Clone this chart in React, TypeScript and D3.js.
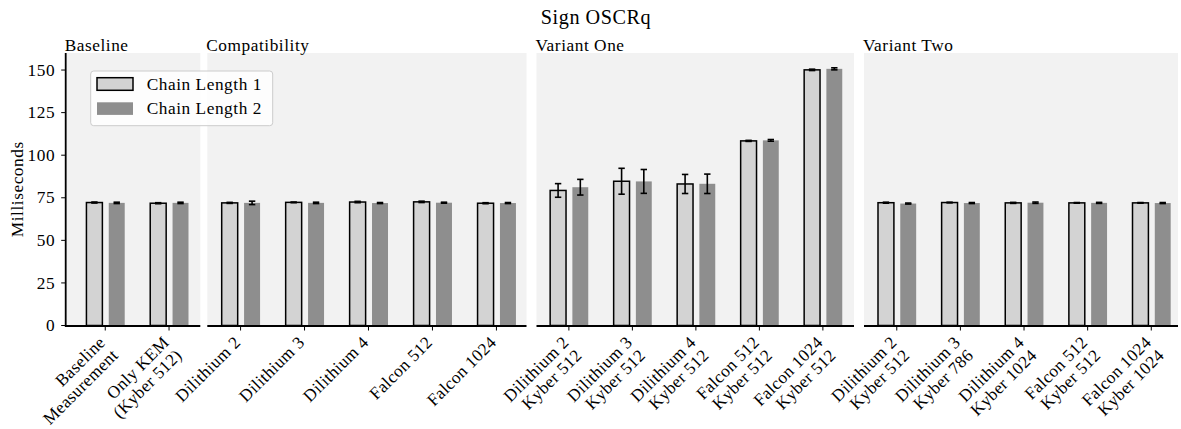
import React from "react";
import * as d3 from "d3";

// ---------- data ----------
const chartTitle = "Sign OSCRq";
const yLabel = "Milliseconds";
const seriesNames = ["Chain Length 1", "Chain Length 2"];
const yTicks = [0, 25, 50, 75, 100, 125, 150];

const panelTitles = ["Baseline", "Compatibility", "Variant One", "Variant Two"];

const baselineCats = ["Baseline\nMeasurement", "Only KEM\n(Kyber 512)"];
const baselineL1 = [72.2, 71.8];
const baselineL1Err = [0.3, 0.3];
const baselineL2 = [72.0, 72.0];
const baselineL2Err = [0.4, 0.4];

const compatCats = ["Dilithium 2", "Dilithium 3", "Dilithium 4", "Falcon 512", "Falcon 1024"];
const compatL1 = [72.0, 72.3, 72.5, 72.6, 71.8];
const compatL1Err = [0.3, 0.2, 0.4, 0.4, 0.3];
const compatL2 = [72.0, 72.0, 71.9, 72.1, 71.9];
const compatL2Err = [1.0, 0.4, 0.3, 0.3, 0.3];

const variantOneCats = [
  "Dilithium 2\nKyber 512",
  "Dilithium 3\nKyber 512",
  "Dilithium 4\nKyber 512",
  "Falcon 512\nKyber 512",
  "Falcon 1024\nKyber 512",
];
const variantOneL1 = [79.3, 84.7, 83.1, 108.4, 150.1];
const variantOneL1Err = [4.0, 7.6, 5.6, 0.3, 0.4];
const variantOneL2 = [81.2, 84.6, 83.2, 108.7, 150.7];
const variantOneL2Err = [4.6, 7.0, 5.7, 0.5, 0.6];

const variantTwoCats = [
  "Dilithium 2\nKyber 512",
  "Dilithium 3\nKyber 786",
  "Dilithium 4\nKyber 1024",
  "Falcon 512\nKyber 512",
  "Falcon 1024\nKyber 1024",
];
const variantTwoL1 = [72.1, 72.2, 72.0, 72.0, 72.0];
const variantTwoL1Err = [0.3, 0.2, 0.3, 0.2, 0.2];
const variantTwoL2 = [71.6, 71.9, 72.1, 72.0, 71.9];
const variantTwoL2Err = [0.3, 0.3, 0.4, 0.3, 0.3];

// ---------- layout ----------
const W = 1181;
const H = 429;
const FONT = "'Liberation Serif', 'Times New Roman', serif";
const FS = 17.3;
const LS = 0.55;
const BG = "#f2f2f2";
const LIGHT = "#d3d3d3";
const DARK = "#8e8e8e";

const yTop = 53;
const yBottom = 325.5;

const panels = [
  { title: panelTitles[0], cats: baselineCats, l1: baselineL1, e1: baselineL1Err, l2: baselineL2, e2: baselineL2Err, x0: 65.7, x1: 200.3, dom: [-0.62, 1.49], leftSpine: true },
  { title: panelTitles[1], cats: compatCats, l1: compatL1, e1: compatL1Err, l2: compatL2, e2: compatL2Err, x0: 207.3, x1: 526.5, dom: [-0.52, 4.47], leftSpine: false },
  { title: panelTitles[2], cats: variantOneCats, l1: variantOneL1, e1: variantOneL1Err, l2: variantOneL2, e2: variantOneL2Err, x0: 536.5, x1: 854, dom: [-0.51, 4.49], leftSpine: false },
  { title: panelTitles[3], cats: variantTwoCats, l1: variantTwoL1, e1: variantTwoL1Err, l2: variantTwoL2, e2: variantTwoL2Err, x0: 864, x1: 1178, dom: [-0.515, 4.42], leftSpine: false },
];

const y = d3.scaleLinear().domain([0, 160]).range([yBottom, yTop]);

const BAR_W = 0.25;
const OFF1 = -0.17;
const OFF2 = 0.18;

function ErrorBar({ cx, v, e }: { cx: number; v: number; e: number }) {
  const yl = y(v - e);
  const yh = y(v + e);
  return (
    <g stroke="#000" strokeWidth={1.6}>
      <line x1={cx} x2={cx} y1={yl} y2={yh} />
      <line x1={cx - 3.2} x2={cx + 3.2} y1={yl} y2={yl} />
      <line x1={cx - 3.2} x2={cx + 3.2} y1={yh} y2={yh} />
    </g>
  );
}

function Panel({ p }: { p: (typeof panels)[number] }) {
  const x = d3.scaleLinear().domain(p.dom).range([p.x0, p.x1]);
  const unit = x(1) - x(0);
  const bw = BAR_W * unit;
  return (
    <g>
      <rect x={p.x0} y={yTop} width={p.x1 - p.x0} height={yBottom - yTop} fill={BG} />
      <text x={p.x0 - 1} y={51} fontFamily={FONT} fontSize={FS} letterSpacing={LS} fill="#000">
        {p.title}
      </text>
      {p.cats.map((c, i) => {
        const c1 = x(i + OFF1);
        const c2 = x(i + OFF2);
        return (
          <g key={"b" + i}>
            <rect x={c1 - bw / 2} y={y(p.l1[i])} width={bw} height={y(0) - y(p.l1[i])} fill={LIGHT} stroke="#000" strokeWidth={1.5} />
            <rect x={c2 - bw / 2} y={y(p.l2[i])} width={bw} height={y(0) - y(p.l2[i])} fill={DARK} />
            <ErrorBar cx={c1} v={p.l1[i]} e={p.e1[i]} />
            <ErrorBar cx={c2} v={p.l2[i]} e={p.e2[i]} />
          </g>
        );
      })}
      {/* bottom spine */}
      <line x1={p.x0} x2={p.x1} y1={yBottom + 0.5} y2={yBottom + 0.5} stroke="#000" strokeWidth={1.8} />
      {p.leftSpine && (
        <line x1={p.x0} x2={p.x0} y1={yTop} y2={yBottom + 1.4} stroke="#000" strokeWidth={1.8} />
      )}
      {p.cats.map((c, i) => {
        const tx = x(i);
        const lines = c.split("\n");
        return (
          <g key={"t" + i}>
            <line x1={tx} x2={tx} y1={yBottom + 1} y2={yBottom + 5} stroke="#000" strokeWidth={1} />
            <g transform={`translate(${tx + 1},${343.5}) rotate(-45)`}>
              <text textAnchor="end" fontFamily={FONT} fontSize={FS} letterSpacing={0.35} fill="#000">
                {lines.map((l, j) => (
                  <tspan key={j} x={0} dy={j === 0 ? 0 : 18.2}>
                    {l}
                  </tspan>
                ))}
              </text>
            </g>
          </g>
        );
      })}
    </g>
  );
}

export default function App() {
  const p0 = panels[0];
  return (
    <svg width={W} height={H} style={{ display: "block", position: "absolute", left: 0, top: 0 }}>
      <rect x={0} y={0} width={W} height={H} fill="#fff" />
      <text x={596} y={24} textAnchor="middle" fontFamily={FONT} fontSize={20.2} letterSpacing={LS} fill="#000">
        {chartTitle}
      </text>
      <text transform={`translate(23,${(yTop + yBottom) / 2}) rotate(-90)`} textAnchor="middle" fontFamily={FONT} fontSize={FS} letterSpacing={LS} fill="#000">
        {yLabel}
      </text>
      {panels.map((p, i) => (
        <Panel key={i} p={p} />
      ))}
      {/* y ticks */}
      {yTicks.map((t) => (
        <g key={t}>
          <line x1={p0.x0 - 4.5} x2={p0.x0} y1={y(t)} y2={y(t)} stroke="#000" strokeWidth={1} />
          <text x={p0.x0 - 10.5} y={y(t) + 5.6} textAnchor="end" fontFamily={FONT} fontSize={FS} letterSpacing={LS} fill="#000">
            {t}
          </text>
        </g>
      ))}
      {/* legend */}
      <g>
        <rect x={90.7} y={71} width={182} height={54.7} rx={3} ry={3} fill="#fff" fillOpacity={0.8} stroke="#cccccc" strokeWidth={1} />
        <rect x={97} y={77.7} width={36} height={12.6} fill={LIGHT} stroke="#000" strokeWidth={1.5} />
        <rect x={97} y={102.3} width={36} height={12.6} fill={DARK} />
        <text x={146.7} y={89.8} fontFamily={FONT} fontSize={FS} letterSpacing={LS} fill="#000">
          {seriesNames[0]}
        </text>
        <text x={146.7} y={114.4} fontFamily={FONT} fontSize={FS} letterSpacing={LS} fill="#000">
          {seriesNames[1]}
        </text>
      </g>
    </svg>
  );
}
